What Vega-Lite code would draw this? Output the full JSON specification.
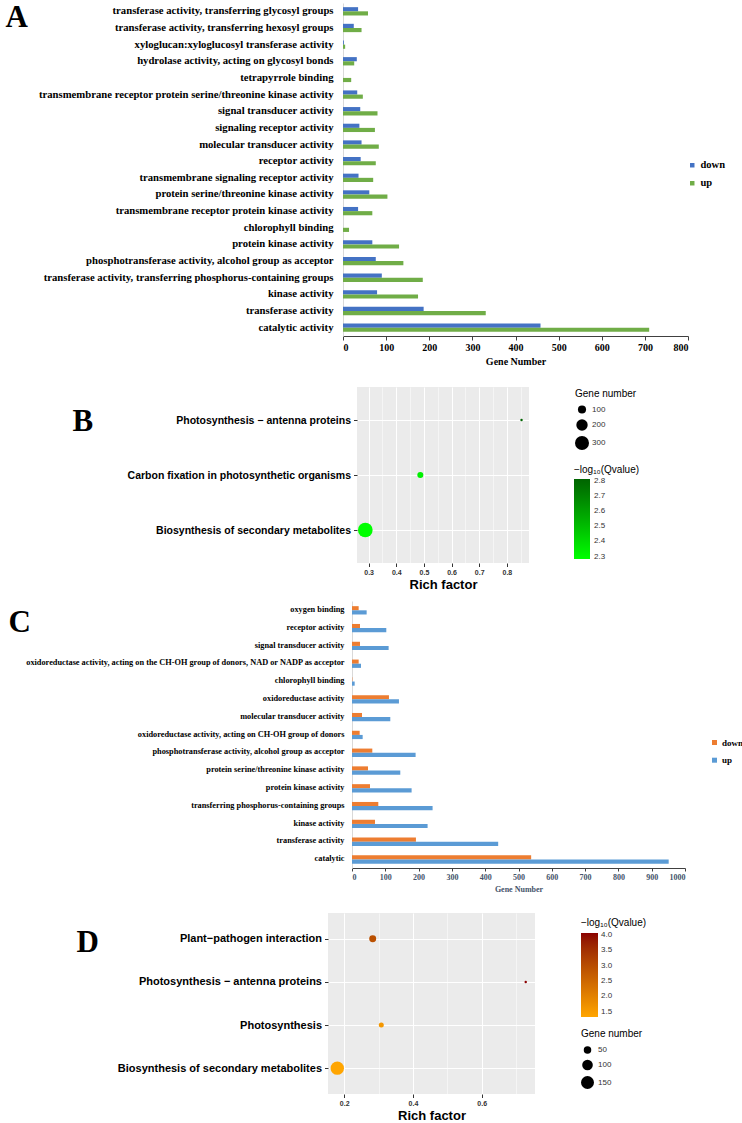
{
  "$schema": "https://vega.github.io/schema/vega-lite/v6.json",
  "padding": {"left": 0, "top": 1, "right": 5, "bottom": 0},
  "config": {"view": {"stroke": null}, "font": "Liberation Sans"},
  "spacing": 0,
  "resolve": {"scale": {"color": "independent", "size": "independent"}, "legend": {"color": "independent", "size": "independent"}},
  "datasets": {
    "goA": [
      {"term": "transferase activity, transferring glycosyl groups", "dir": "down", "genes": 35},
      {"term": "transferase activity, transferring glycosyl groups", "dir": "up", "genes": 58},
      {"term": "transferase activity, transferring hexosyl groups", "dir": "down", "genes": 25},
      {"term": "transferase activity, transferring hexosyl groups", "dir": "up", "genes": 43},
      {"term": "xyloglucan:xyloglucosyl transferase activity", "dir": "down", "genes": 2},
      {"term": "xyloglucan:xyloglucosyl transferase activity", "dir": "up", "genes": 5},
      {"term": "hydrolase activity, acting on glycosyl bonds", "dir": "down", "genes": 32},
      {"term": "hydrolase activity, acting on glycosyl bonds", "dir": "up", "genes": 26},
      {"term": "tetrapyrrole binding", "dir": "down", "genes": 0},
      {"term": "tetrapyrrole binding", "dir": "up", "genes": 19},
      {"term": "transmembrane receptor protein serine/threonine kinase activity", "dir": "down", "genes": 33},
      {"term": "transmembrane receptor protein serine/threonine kinase activity", "dir": "up", "genes": 46},
      {"term": "signal transducer activity", "dir": "down", "genes": 40},
      {"term": "signal transducer activity", "dir": "up", "genes": 80},
      {"term": "signaling receptor activity", "dir": "down", "genes": 38},
      {"term": "signaling receptor activity", "dir": "up", "genes": 74},
      {"term": "molecular transducer activity", "dir": "down", "genes": 43},
      {"term": "molecular transducer activity", "dir": "up", "genes": 83},
      {"term": "receptor activity", "dir": "down", "genes": 41},
      {"term": "receptor activity", "dir": "up", "genes": 76},
      {"term": "transmembrane signaling receptor activity", "dir": "down", "genes": 36},
      {"term": "transmembrane signaling receptor activity", "dir": "up", "genes": 70},
      {"term": "protein serine/threonine kinase activity", "dir": "down", "genes": 61},
      {"term": "protein serine/threonine kinase activity", "dir": "up", "genes": 103},
      {"term": "transmembrane receptor protein kinase activity", "dir": "down", "genes": 35},
      {"term": "transmembrane receptor protein kinase activity", "dir": "up", "genes": 68},
      {"term": "chlorophyll binding", "dir": "down", "genes": 0},
      {"term": "chlorophyll binding", "dir": "up", "genes": 14},
      {"term": "protein kinase activity", "dir": "down", "genes": 68},
      {"term": "protein kinase activity", "dir": "up", "genes": 130},
      {"term": "phosphotransferase activity, alcohol group as acceptor", "dir": "down", "genes": 76},
      {"term": "phosphotransferase activity, alcohol group as acceptor", "dir": "up", "genes": 140},
      {"term": "transferase activity, transferring phosphorus-containing groups", "dir": "down", "genes": 90},
      {"term": "transferase activity, transferring phosphorus-containing groups", "dir": "up", "genes": 185},
      {"term": "kinase activity", "dir": "down", "genes": 79},
      {"term": "kinase activity", "dir": "up", "genes": 174},
      {"term": "transferase activity", "dir": "down", "genes": 187},
      {"term": "transferase activity", "dir": "up", "genes": 331},
      {"term": "catalytic activity", "dir": "down", "genes": 458},
      {"term": "catalytic activity", "dir": "up", "genes": 710}
    ],
    "keggB": [
      {"pathway": "Photosynthesis − antenna proteins", "rich": 0.853, "genes": 8, "q": 2.81},
      {"pathway": "Carbon fixation in photosynthetic organisms", "rich": 0.487, "genes": 55, "q": 2.33},
      {"pathway": "Biosynthesis of secondary metabolites", "rich": 0.288, "genes": 330, "q": 2.284}
    ],
    "goC": [
      {"term": "oxygen binding", "dir": "down", "genes": 20},
      {"term": "oxygen binding", "dir": "up", "genes": 44},
      {"term": "receptor activity", "dir": "down", "genes": 24},
      {"term": "receptor activity", "dir": "up", "genes": 103},
      {"term": "signal transducer activity", "dir": "down", "genes": 24},
      {"term": "signal transducer activity", "dir": "up", "genes": 110},
      {"term": "oxidoreductase activity, acting on the CH-OH group of donors, NAD or NADP as acceptor", "dir": "down", "genes": 20},
      {"term": "oxidoreductase activity, acting on the CH-OH group of donors, NAD or NADP as acceptor", "dir": "up", "genes": 27},
      {"term": "chlorophyll binding", "dir": "down", "genes": 1},
      {"term": "chlorophyll binding", "dir": "up", "genes": 8},
      {"term": "oxidoreductase activity", "dir": "down", "genes": 111},
      {"term": "oxidoreductase activity", "dir": "up", "genes": 141},
      {"term": "molecular transducer activity", "dir": "down", "genes": 30},
      {"term": "molecular transducer activity", "dir": "up", "genes": 115},
      {"term": "oxidoreductase activity, acting on CH-OH group of donors", "dir": "down", "genes": 23},
      {"term": "oxidoreductase activity, acting on CH-OH group of donors", "dir": "up", "genes": 32},
      {"term": "phosphotransferase activity, alcohol group as acceptor", "dir": "down", "genes": 61},
      {"term": "phosphotransferase activity, alcohol group as acceptor", "dir": "up", "genes": 191},
      {"term": "protein serine/threonine kinase activity", "dir": "down", "genes": 48},
      {"term": "protein serine/threonine kinase activity", "dir": "up", "genes": 145},
      {"term": "protein kinase activity", "dir": "down", "genes": 54},
      {"term": "protein kinase activity", "dir": "up", "genes": 179},
      {"term": "transferring phosphorus-containing groups", "dir": "down", "genes": 79},
      {"term": "transferring phosphorus-containing groups", "dir": "up", "genes": 242},
      {"term": "kinase activity", "dir": "down", "genes": 69},
      {"term": "kinase activity", "dir": "up", "genes": 227},
      {"term": "transferase activity", "dir": "down", "genes": 192},
      {"term": "transferase activity", "dir": "up", "genes": 439},
      {"term": "catalytic", "dir": "down", "genes": 538},
      {"term": "catalytic", "dir": "up", "genes": 951}
    ],
    "keggD": [
      {"pathway": "Plant−pathogen interaction", "rich": 0.283, "genes": 43, "q": 2.95},
      {"pathway": "Photosynthesis − antenna proteins", "rich": 0.728, "genes": 5, "q": 4.07},
      {"pathway": "Photosynthesis", "rich": 0.308, "genes": 22, "q": 1.6},
      {"pathway": "Biosynthesis of secondary metabolites", "rich": 0.18, "genes": 160, "q": 1.33}
    ]
  },
  "vconcat": [
    {
      "spacing": 0,
      "resolve": {"scale": {"color": "independent", "size": "independent"}, "legend": {"color": "independent", "size": "independent"}},
      "hconcat": [
        {"width": 5, "height": 384, "data": {"values": []}, "mark": "text", "encoding": {}},
        {
          "width": 345, "height": 333,
          "data": {"name": "goA"},
          "mark": {"type": "bar"},
          "encoding": {
            "y": {
              "field": "term", "type": "nominal",
              "sort": ["transferase activity, transferring glycosyl groups", "transferase activity, transferring hexosyl groups", "xyloglucan:xyloglucosyl transferase activity", "hydrolase activity, acting on glycosyl bonds", "tetrapyrrole binding", "transmembrane receptor protein serine/threonine kinase activity", "signal transducer activity", "signaling receptor activity", "molecular transducer activity", "receptor activity", "transmembrane signaling receptor activity", "protein serine/threonine kinase activity", "transmembrane receptor protein kinase activity", "chlorophyll binding", "protein kinase activity", "phosphotransferase activity, alcohol group as acceptor", "transferase activity, transferring phosphorus-containing groups", "kinase activity", "transferase activity", "catalytic activity"],
              "scale": {"paddingInner": 0.5, "paddingOuter": 0.25},
              "axis": {
                "title": "A", "titleAngle": 0, "titleX": -338, "titleY": 23, "titleAlign": "left", "titleBaseline": "alphabetic",
                "titleFont": "Liberation Serif", "titleFontSize": 31, "titleFontWeight": "bold", "titleColor": "#000000",
                "labelFont": "Liberation Serif", "labelFontWeight": "bold", "labelFontSize": 10.7, "labelColor": "#000000",
                "labelPadding": 10, "labelLimit": 400, "ticks": false, "domainColor": "#D9D9D9", "domainWidth": 1
              }
            },
            "yOffset": {"field": "dir", "type": "nominal", "sort": ["down", "up"], "scale": {"paddingInner": 0, "paddingOuter": 0}},
            "x": {
              "field": "genes", "type": "quantitative",
              "scale": {"domain": [0, 800], "nice": false},
              "axis": {
                "title": "Gene Number", "values": [0, 100, 200, 300, 400, 500, 600, 700, 800], "format": "d", "grid": false,
                "domainColor": "#404040", "tickColor": "#404040", "tickSize": 4,
                "labelFont": "Liberation Serif", "labelFontWeight": "bold", "labelFontSize": 10, "labelColor": "#000000", "labelPadding": 2,
                "titleFont": "Liberation Serif", "titleFontWeight": "bold", "titleFontSize": 10, "titleColor": "#000000", "titlePadding": 4
              }
            },
            "color": {
              "field": "dir", "type": "nominal",
              "scale": {"domain": ["down", "up"], "range": ["#4472C4", "#70AD47"]},
              "legend": {
                "orient": "none", "legendX": 344, "legendY": 157, "title": null, "padding": 0,
                "symbolType": "square", "symbolSize": 20, "symbolStrokeWidth": 0,
                "labelFont": "Liberation Serif", "labelFontWeight": "bold", "labelFontSize": 10.5, "labelColor": "#000000",
                "labelOffset": 3, "rowPadding": 7
              }
            }
          }
        }
      ]
    },
    {
      "spacing": 0,
      "resolve": {"scale": {"color": "independent", "size": "independent"}, "legend": {"color": "independent", "size": "independent"}},
      "hconcat": [
        {"width": 72, "height": 214, "data": {"values": []}, "mark": "text", "encoding": {}},
        {
          "width": 172, "height": 176,
          "view": {"fill": "#EBEBEB", "stroke": null},
          "data": {"name": "keggB"},
          "mark": {"type": "circle", "opacity": 1},
          "encoding": {
            "y": {
              "field": "pathway", "type": "nominal",
              "sort": ["Photosynthesis − antenna proteins", "Carbon fixation in photosynthetic organisms", "Biosynthesis of secondary metabolites"],
              "scale": {"type": "point", "padding": 0.6},
              "axis": {
                "title": "B", "titleAngle": 0, "titleX": -285, "titleY": 43, "titleAlign": "left", "titleBaseline": "alphabetic",
                "titleFont": "Liberation Serif", "titleFontSize": 31, "titleFontWeight": "bold", "titleColor": "#000000",
                "grid": true, "gridColor": "#FFFFFF", "gridWidth": 1, "domain": false,
                "ticks": true, "tickSize": 3.5, "tickColor": "#333333", "tickWidth": 1,
                "labelFont": "Liberation Sans", "labelFontWeight": "bold", "labelFontSize": 10.5, "labelColor": "#000000",
                "labelPadding": 3, "labelLimit": 400
              }
            },
            "x": {
              "field": "rich", "type": "quantitative",
              "scale": {"domain": [0.258, 0.88], "nice": false, "zero": false},
              "axis": {
                "title": "Rich factor",
                "values": [0.3, 0.35, 0.4, 0.45, 0.5, 0.55, 0.6, 0.65, 0.7, 0.75, 0.8, 0.85],
                "format": ".1f",
                "labelExpr": "abs(datum.value*10 - round(datum.value*10)) < 0.01 ? datum.label : ''",
                "grid": true, "gridColor": "#FFFFFF",
                "gridWidth": {"condition": {"test": "abs(datum.value*10 - round(datum.value*10)) < 0.01", "value": 1}, "value": 0.5},
                "domain": false, "tickSize": 3.5, "tickColor": "#333333",
                "tickOpacity": {"condition": {"test": "abs(datum.value*10 - round(datum.value*10)) < 0.01", "value": 1}, "value": 0},
                "labelFont": "Liberation Sans", "labelFontWeight": "bold", "labelFontSize": 7, "labelColor": "#333333", "labelPadding": 2,
                "titleFont": "Liberation Sans", "titleFontWeight": "bold", "titleFontSize": 13, "titleColor": "#000000", "titlePadding": 3
              }
            },
            "size": {
              "field": "genes", "type": "quantitative",
              "scale": {"domain": [8, 330], "range": [6, 215], "zero": false},
              "legend": {
                "orient": "none", "legendX": 218, "legendY": 2, "padding": 0,
                "title": "Gene number", "titleFont": "Liberation Sans", "titleFontSize": 10, "titleFontWeight": "normal", "titleColor": "#000000", "titlePadding": 6,
                "values": [100, 200, 300], "symbolType": "circle", "symbolFillColor": "#000000", "symbolStrokeWidth": 0, "symbolOpacity": 1,
                "labelFont": "Liberation Sans", "labelFontSize": 8, "labelColor": "#333333", "labelOffset": 3, "rowPadding": 5
              }
            },
            "color": {
              "field": "q", "type": "quantitative",
              "scale": {"domain": [2.284, 2.81], "range": ["#00FF00", "#006400"], "interpolate": "lab"},
              "legend": {
                "orient": "none", "legendX": 217, "legendY": 78, "padding": 0, "direction": "vertical",
                "title": "−log₁₀(Qvalue)", "titleFont": "Liberation Sans", "titleFontSize": 10, "titleFontWeight": "normal", "titleColor": "#000000", "titlePadding": 4,
                "gradientLength": 80, "gradientThickness": 16, "gradientStrokeWidth": 0,
                "values": [2.3, 2.4, 2.5, 2.6, 2.7, 2.8], "format": ".1f",
                "labelFont": "Liberation Sans", "labelFontSize": 8, "labelColor": "#333333", "labelOffset": 4
              }
            }
          }
        }
      ]
    },
    {
      "spacing": 0,
      "resolve": {"scale": {"color": "independent", "size": "independent"}, "legend": {"color": "independent", "size": "independent"}},
      "hconcat": [
        {"width": 8, "height": 312, "data": {"values": []}, "mark": "text", "encoding": {}},
        {
          "width": 333, "height": 267,
          "data": {"name": "goC"},
          "mark": {"type": "bar"},
          "encoding": {
            "y": {
              "field": "term", "type": "nominal",
              "sort": ["oxygen binding", "receptor activity", "signal transducer activity", "oxidoreductase activity, acting on the CH-OH group of donors, NAD or NADP as acceptor", "chlorophyll binding", "oxidoreductase activity", "molecular transducer activity", "oxidoreductase activity, acting on CH-OH group of donors", "phosphotransferase activity, alcohol group as acceptor", "protein serine/threonine kinase activity", "protein kinase activity", "transferring phosphorus-containing groups", "kinase activity", "transferase activity", "catalytic"],
              "scale": {"paddingInner": 0.58, "paddingOuter": 0.29},
              "axis": {
                "title": "C", "titleAngle": 0, "titleX": -344, "titleY": 30, "titleAlign": "left", "titleBaseline": "alphabetic",
                "titleFont": "Liberation Serif", "titleFontSize": 31, "titleFontWeight": "bold", "titleColor": "#000000",
                "labelFont": "Liberation Serif", "labelFontWeight": "bold", "labelFontSize": 8.3, "labelColor": "#000000",
                "labelPadding": 8, "labelLimit": 400, "ticks": false, "domainColor": "#D9D9D9", "domainWidth": 1
              }
            },
            "yOffset": {"field": "dir", "type": "nominal", "sort": ["down", "up"], "scale": {"paddingInner": 0, "paddingOuter": 0}},
            "x": {
              "field": "genes", "type": "quantitative",
              "scale": {"domain": [0, 1000], "nice": false},
              "axis": {
                "title": "Gene Number", "values": [0, 100, 200, 300, 400, 500, 600, 700, 800, 900, 1000], "format": "d", "grid": false,
                "domainColor": "#404040", "tickColor": "#404040", "tickSize": 3,
                "labelFont": "Liberation Serif", "labelFontWeight": "bold", "labelFontSize": 8, "labelColor": "#44546A", "labelPadding": 2,
                "titleFont": "Liberation Serif", "titleFontWeight": "bold", "titleFontSize": 8, "titleColor": "#44546A", "titlePadding": 4
              }
            },
            "color": {
              "field": "dir", "type": "nominal",
              "scale": {"domain": ["down", "up"], "range": ["#ED7D31", "#5B9BD5"]},
              "legend": {
                "orient": "none", "legendX": 358, "legendY": 137, "title": null, "padding": 0,
                "symbolType": "square", "symbolSize": 25, "symbolStrokeWidth": 0,
                "labelFont": "Liberation Serif", "labelFontWeight": "bold", "labelFontSize": 9, "labelColor": "#000000",
                "labelOffset": 3, "rowPadding": 7.7
              }
            }
          }
        }
      ]
    },
    {
      "spacing": 0,
      "resolve": {"scale": {"color": "independent", "size": "independent"}, "legend": {"color": "independent", "size": "independent"}},
      "hconcat": [
        {"width": 76, "height": 205, "data": {"values": []}, "mark": "text", "encoding": {}},
        {
          "width": 207, "height": 181,
          "view": {"fill": "#EBEBEB", "stroke": null},
          "data": {"name": "keggD"},
          "mark": {"type": "circle", "opacity": 1},
          "encoding": {
            "y": {
              "field": "pathway", "type": "nominal",
              "sort": ["Plant−pathogen interaction", "Photosynthesis − antenna proteins", "Photosynthesis", "Biosynthesis of secondary metabolites"],
              "scale": {"type": "point", "padding": 0.6},
              "axis": {
                "title": "D", "titleAngle": 0, "titleX": -252, "titleY": 38, "titleAlign": "left", "titleBaseline": "alphabetic",
                "titleFont": "Liberation Serif", "titleFontSize": 31, "titleFontWeight": "bold", "titleColor": "#000000",
                "grid": true, "gridColor": "#FFFFFF", "gridWidth": 1, "domain": false,
                "ticks": true, "tickSize": 3.5, "tickColor": "#333333", "tickWidth": 1,
                "labelFont": "Liberation Sans", "labelFontWeight": "bold", "labelFontSize": 11, "labelColor": "#000000",
                "labelPadding": 3, "labelLimit": 400
              }
            },
            "x": {
              "field": "rich", "type": "quantitative",
              "scale": {"domain": [0.153, 0.755], "nice": false, "zero": false},
              "axis": {
                "title": "Rich factor",
                "values": [0.2, 0.3, 0.4, 0.5, 0.6, 0.7],
                "format": ".1f",
                "labelExpr": "abs(datum.value*5 - round(datum.value*5)) < 0.01 ? datum.label : ''",
                "grid": true, "gridColor": "#FFFFFF",
                "gridWidth": {"condition": {"test": "abs(datum.value*5 - round(datum.value*5)) < 0.01", "value": 1}, "value": 0.5},
                "domain": false, "tickSize": 3.5, "tickColor": "#333333",
                "tickOpacity": {"condition": {"test": "abs(datum.value*5 - round(datum.value*5)) < 0.01", "value": 1}, "value": 0},
                "labelFont": "Liberation Sans", "labelFontWeight": "bold", "labelFontSize": 7, "labelColor": "#333333", "labelPadding": 2,
                "titleFont": "Liberation Sans", "titleFontWeight": "bold", "titleFontSize": 13, "titleColor": "#000000", "titlePadding": 3
              }
            },
            "size": {
              "field": "genes", "type": "quantitative",
              "scale": {"domain": [5, 160], "range": [6, 180], "zero": false},
              "legend": {
                "orient": "none", "legendX": 253, "legendY": 116, "padding": 0,
                "title": "Gene number", "titleFont": "Liberation Sans", "titleFontSize": 10, "titleFontWeight": "normal", "titleColor": "#000000", "titlePadding": 7,
                "values": [50, 100, 150], "symbolType": "circle", "symbolFillColor": "#000000", "symbolStrokeWidth": 0, "symbolOpacity": 1,
                "labelFont": "Liberation Sans", "labelFontSize": 8, "labelColor": "#333333", "labelOffset": 4, "rowPadding": 5.5
              }
            },
            "color": {
              "field": "q", "type": "quantitative",
              "scale": {"domain": [1.33, 4.07], "range": ["#FFA500", "#8B0000"], "interpolate": "lab"},
              "legend": {
                "orient": "none", "legendX": 253, "legendY": 5, "padding": 0, "direction": "vertical",
                "title": "−log₁₀(Qvalue)", "titleFont": "Liberation Sans", "titleFontSize": 10, "titleFontWeight": "normal", "titleColor": "#000000", "titlePadding": 5,
                "gradientLength": 84, "gradientThickness": 17, "gradientStrokeWidth": 0,
                "values": [1.5, 2, 2.5, 3, 3.5, 4], "format": ".1f",
                "labelFont": "Liberation Sans", "labelFontSize": 8, "labelColor": "#333333", "labelOffset": 3
              }
            }
          }
        }
      ]
    }
  ]
}
